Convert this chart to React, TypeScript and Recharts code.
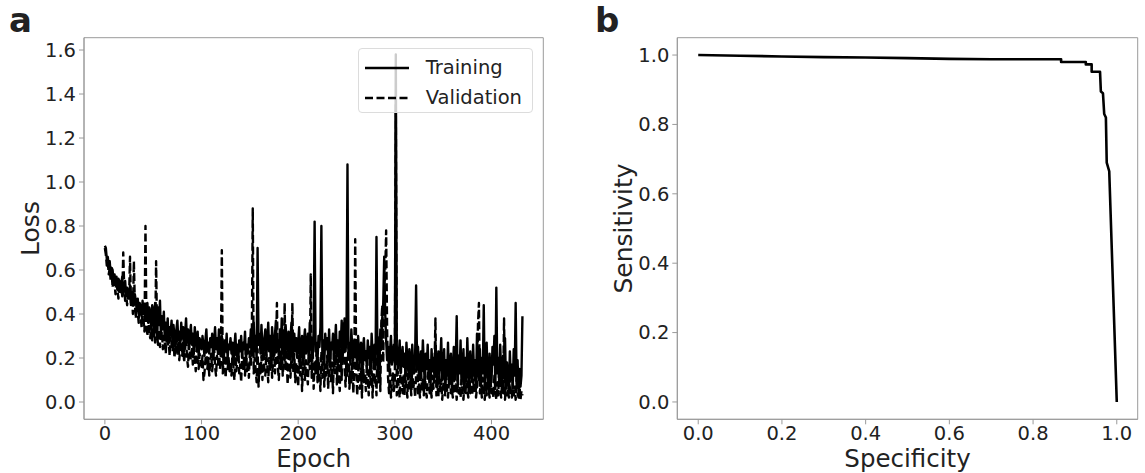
import { LineChart, Line, XAxis, YAxis, Legend, ReferenceArea, Label } from "recharts"

const FONT = '"DejaVu Sans", sans-serif'

// panel a: loss per epoch (index = epoch)
const trainingLoss = [
    0.71, 0.70, 0.65, 0.66, 0.62, 0.64, 0.58, 0.61, 0.60, 0.55,
    0.58, 0.53, 0.57, 0.51, 0.56, 0.55, 0.50, 0.54, 0.57, 0.49,
    0.53, 0.55, 0.48, 0.52, 0.50, 0.47, 0.53, 0.45, 0.50, 0.48,
    0.44, 0.49, 0.46, 0.42, 0.47, 0.40, 0.45, 0.43, 0.39, 0.46,
    0.41, 0.44, 0.38, 0.43, 0.45, 0.36, 0.43, 0.41, 0.33, 0.44,
    0.42, 0.31, 0.45, 0.38, 0.29, 0.43, 0.35, 0.46, 0.30, 0.39,
    0.33, 0.41, 0.28, 0.36, 0.30, 0.38, 0.27, 0.34, 0.31, 0.37,
    0.26, 0.35, 0.30, 0.24, 0.33, 0.37, 0.28, 0.32, 0.25, 0.36,
    0.29, 0.34, 0.23, 0.31, 0.38, 0.27, 0.33, 0.24, 0.30, 0.35,
    0.26, 0.31, 0.22, 0.34, 0.28, 0.25, 0.32, 0.21, 0.29, 0.27,
    0.24, 0.30, 0.26, 0.21, 0.28, 0.33, 0.23, 0.27, 0.22, 0.29,
    0.25, 0.31, 0.20, 0.27, 0.34, 0.24, 0.29, 0.22, 0.33, 0.26,
    0.21, 0.30, 0.25, 0.19, 0.28, 0.23, 0.31, 0.20, 0.26, 0.24,
    0.29, 0.22, 0.27, 0.18, 0.25, 0.31, 0.21, 0.26, 0.19, 0.28,
    0.23, 0.30, 0.20, 0.27, 0.24, 0.32, 0.19, 0.26, 0.22, 0.29,
    0.25, 0.33, 0.21, 0.28, 0.36, 0.23, 0.30, 0.19, 0.70, 0.26,
    0.31, 0.22, 0.35, 0.24, 0.20, 0.29, 0.33, 0.21, 0.27, 0.36,
    0.23, 0.30, 0.18, 0.34, 0.26, 0.21, 0.31, 0.37, 0.24, 0.28,
    0.20, 0.33, 0.25, 0.38, 0.22, 0.29, 0.19, 0.35, 0.27, 0.23,
    0.32, 0.21, 0.28, 0.36, 0.18, 0.26, 0.31, 0.23, 0.29, 0.20,
    0.27, 0.34, 0.19, 0.25, 0.30, 0.17, 0.28, 0.33, 0.22, 0.26,
    0.31, 0.18, 0.36, 0.24, 0.29, 0.20, 0.33, 0.82, 0.23, 0.27,
    0.19, 0.30, 0.25, 0.34, 0.80, 0.22, 0.28, 0.17, 0.31, 0.24,
    0.29, 0.20, 0.33, 0.16, 0.27, 0.24, 0.31, 0.19, 0.26, 0.35,
    0.21, 0.28, 0.18, 0.32, 0.25, 0.37, 0.20, 0.29, 0.38, 0.23,
    0.30, 1.08, 0.22, 0.27, 0.17, 0.33, 0.24, 0.19, 0.28, 0.21,
    0.26, 0.15, 0.30, 0.22, 0.18, 0.27, 0.13, 0.24, 0.29, 0.19,
    0.23, 0.16, 0.28, 0.20, 0.25, 0.14, 0.31, 0.21, 0.18, 0.26,
    0.15, 0.75, 0.22, 0.29, 0.19, 0.33, 0.24, 0.38, 0.45, 0.66,
    0.41, 0.28, 0.19, 0.25, 0.14, 0.23, 0.30, 0.17, 0.21, 0.26,
    0.18, 1.58, 0.24, 0.15, 0.21, 0.28, 0.13, 0.19, 0.25, 0.16,
    0.22, 0.12, 0.27, 0.18, 0.14, 0.24, 0.20, 0.11, 0.26, 0.17,
    0.13, 0.21, 0.53, 0.16, 0.25, 0.10, 0.19, 0.23, 0.14, 0.28,
    0.17, 0.09, 0.22, 0.15, 0.26, 0.12, 0.19, 0.08, 0.24, 0.14,
    0.20, 0.11, 0.27, 0.16, 0.07, 0.23, 0.13, 0.18, 0.29, 0.10,
    0.15, 0.24, 0.06, 0.19, 0.12, 0.27, 0.09, 0.17, 0.22, 0.05,
    0.14, 0.25, 0.10, 0.18, 0.39, 0.07, 0.21, 0.13, 0.28, 0.08,
    0.17, 0.24, 0.05, 0.20, 0.11, 0.29, 0.14, 0.07, 0.23, 0.16,
    0.09, 0.26, 0.12, 0.19, 0.06, 0.31, 0.15, 0.10, 0.24, 0.08,
    0.20, 0.13, 0.44, 0.07, 0.18, 0.27, 0.11, 0.05, 0.22, 0.15,
    0.09, 0.25, 0.17, 0.30, 0.06, 0.52, 0.13, 0.20, 0.08, 0.26,
    0.14, 0.05, 0.21, 0.11, 0.29, 0.07, 0.18, 0.12, 0.04, 0.23,
    0.10, 0.17, 0.06, 0.24, 0.12, 0.45, 0.08, 0.19, 0.04, 0.15,
    0.07, 0.12, 0.39,
]

const validationLoss = [
    0.70, 0.67, 0.62, 0.64, 0.58, 0.61, 0.55, 0.59, 0.52, 0.57,
    0.54, 0.49, 0.56, 0.51, 0.47, 0.55, 0.50, 0.53, 0.48, 0.68,
    0.52, 0.46, 0.50, 0.44, 0.49, 0.47, 0.66, 0.43, 0.48, 0.40,
    0.64, 0.45, 0.38, 0.44, 0.41, 0.36, 0.43, 0.39, 0.34, 0.42,
    0.37, 0.32, 0.80, 0.35, 0.30, 0.38, 0.31, 0.29, 0.36, 0.28,
    0.33, 0.30, 0.27, 0.64, 0.31, 0.26, 0.33, 0.25, 0.29, 0.32,
    0.24, 0.30, 0.27, 0.22, 0.31, 0.25, 0.28, 0.21, 0.33, 0.26,
    0.23, 0.29, 0.20, 0.26, 0.31, 0.22, 0.27, 0.19, 0.25, 0.30,
    0.21, 0.27, 0.18, 0.24, 0.29, 0.20, 0.16, 0.26, 0.22, 0.19,
    0.25, 0.17, 0.23, 0.20, 0.14, 0.27, 0.19, 0.15, 0.22, 0.18,
    0.16, 0.21, 0.10, 0.13, 0.19, 0.24, 0.15, 0.20, 0.12, 0.18,
    0.22, 0.14, 0.19, 0.25, 0.16, 0.12, 0.21, 0.17, 0.26, 0.15,
    0.19, 0.69, 0.13, 0.22, 0.17, 0.11, 0.24, 0.15, 0.20, 0.14,
    0.18, 0.12, 0.23, 0.16, 0.10, 0.21, 0.14, 0.19, 0.25, 0.13,
    0.17, 0.09, 0.22, 0.15, 0.20, 0.12, 0.26, 0.14, 0.18, 0.11,
    0.23, 0.16, 0.28, 0.88, 0.13, 0.20, 0.15, 0.09, 0.24, 0.07,
    0.18, 0.13, 0.21, 0.10, 0.26, 0.15, 0.12, 0.22, 0.17, 0.09,
    0.20, 0.14, 0.25, 0.11, 0.18, 0.27, 0.13, 0.21, 0.45, 0.16,
    0.10, 0.23, 0.15, 0.28, 0.12, 0.19, 0.45, 0.14, 0.24, 0.08,
    0.17, 0.26, 0.11, 0.20, 0.45, 0.13, 0.22, 0.09, 0.18, 0.15,
    0.07, 0.21, 0.12, 0.25, 0.05, 0.16, 0.23, 0.10, 0.19, 0.13,
    0.08, 0.22, 0.15, 0.58, 0.11, 0.26, 0.06, 0.18, 0.13, 0.24,
    0.09, 0.20, 0.14, 0.05, 0.23, 0.11, 0.28, 0.07, 0.17, 0.12,
    0.21, 0.06, 0.15, 0.25, 0.09, 0.18, 0.04, 0.22, 0.13, 0.27,
    0.08, 0.19, 0.12, 0.05, 0.24, 0.10, 0.30, 0.37, 0.16, 0.07,
    0.20, 0.12, 0.26, 0.06, 0.15, 0.09, 0.22, 0.04, 0.13, 0.74,
    0.18, 0.03, 0.11, 0.24, 0.06, 0.15, 0.02, 0.20, 0.09, 0.13,
    0.05, 0.17, 0.10, 0.03, 0.22, 0.07, 0.14, 0.02, 0.19, 0.08,
    0.12, 0.03, 0.25, 0.09, 0.30, 0.05, 0.36, 0.44, 0.18, 0.50,
    0.57, 0.78, 0.33, 0.11, 0.04, 0.16, 0.02, 0.09, 0.13, 0.05,
    0.10, 1.35, 0.03, 0.14, 0.06, 0.02, 0.18, 0.08, 0.04, 0.12,
    0.03, 0.15, 0.07, 0.02, 0.20, 0.05, 0.11, 0.03, 0.16, 0.06,
    0.09, 0.02, 0.13, 0.26, 0.04, 0.08, 0.02, 0.17, 0.05, 0.10,
    0.03, 0.14, 0.06, 0.02, 0.11, 0.19, 0.04, 0.08, 0.02, 0.12,
    0.06, 0.15, 0.38, 0.03, 0.09, 0.02, 0.13, 0.05, 0.10, 0.01,
    0.07, 0.12, 0.03, 0.16, 0.05, 0.02, 0.09, 0.14, 0.04, 0.06,
    0.02, 0.11, 0.05, 0.08, 0.01, 0.13, 0.04, 0.07, 0.02, 0.10,
    0.05, 0.01, 0.09, 0.03, 0.12, 0.06, 0.02, 0.15, 0.04, 0.08,
    0.03, 0.10, 0.05, 0.14, 0.02, 0.07, 0.35, 0.45, 0.04, 0.09,
    0.02, 0.11, 0.05, 0.01, 0.08, 0.03, 0.13, 0.06, 0.02, 0.10,
    0.04, 0.07, 0.02, 0.12, 0.05, 0.01, 0.09, 0.03, 0.16, 0.06,
    0.02, 0.08, 0.04, 0.38, 0.01, 0.10, 0.03, 0.06, 0.02, 0.11,
    0.05, 0.02, 0.09, 0.03, 0.07, 0.01, 0.12, 0.04, 0.02, 0.08,
    0.01, 0.05, 0.03,
]

const epochTicks = [0, 100, 200, 300, 400]
const lossTicks = [0, 0.2, 0.4, 0.6, 0.8, 1.0, 1.2, 1.4, 1.6]

// panel b: ROC points
const specificity = [0, 0.1, 0.2, 0.3, 0.4, 0.5, 0.6, 0.7, 0.8, 0.867, 0.867, 0.926, 0.926, 0.94, 0.94, 0.96, 0.962, 0.967, 0.970, 0.974, 0.976, 0.982, 1.0]
const sensitivity = [1.0, 0.998, 0.996, 0.994, 0.993, 0.991, 0.989, 0.988, 0.988, 0.988, 0.98, 0.98, 0.973, 0.973, 0.952, 0.952, 0.895, 0.89, 0.83, 0.82, 0.69, 0.665, 0.0]
const rocTicks = [0, 0.2, 0.4, 0.6, 0.8, 1.0]

const lossData = trainingLoss.map((v, i) => ({ epoch: i, training: v, validation: validationLoss[i] }))
const rocData = specificity.map((s, i) => ({ spec: s, sens: sensitivity[i] }))

const EPOCH_DOMAIN = [-21.6, 453.6]
const LOSS_DOMAIN = [-0.0786, 1.656]
const ROC_DOMAIN = [-0.05, 1.05]

const DASH = "8 3.5"
const tickStyle = { fill: "#222", fontSize: 19.5, fontFamily: FONT }
const fmt1 = (v: number) => v.toFixed(1)

const YTitle = (text: string) => (props: any) => {
    const vb = props.viewBox || {}
    const cx = vb.x + vb.width - 53.5
    const cy = vb.y + vb.height / 2
    return (
        <text x={cx} y={cy} transform={`rotate(-90, ${cx}, ${cy})`} textAnchor="middle" dominantBaseline="central"
            fontSize={25} fontFamily={FONT} fill="#222">{text}</text>
    )
}

const XTitle = (text: string) => (props: any) => {
    const vb = props.viewBox || {}
    return (
        <text x={vb.x + vb.width / 2} y={vb.y + 48} textAnchor="middle" fontSize={24.5} fontFamily={FONT} fill="#222">{text}</text>
    )
}

const LossLegend = () => (
    <div style={{
        width: 175, height: 65, boxSizing: "border-box", background: "rgba(255,255,255,0.8)",
        border: "1px solid #dcdcdc", borderRadius: 4, fontFamily: FONT, fontSize: 19.5, color: "#222",
        padding: "4px 0 0 6px", lineHeight: "30px",
    }}>
        {[["Training", undefined], ["Validation", DASH]].map(([name, dash]) => (
            <div key={name} style={{ display: "flex", alignItems: "center" }}>
                <svg width={44} height={10} style={{ marginRight: 17 }}>
                    <line x1={0} y1={5} x2={44} y2={5} stroke="#000" strokeWidth={2.3} strokeDasharray={dash} />
                </svg>
                <span>{name}</span>
            </div>
        ))}
    </div>
)

const LossPanel = () => (
    <LineChart width={560} height={473} data={lossData} margin={{ top: 37.7, right: 16.7, bottom: 3.7, left: 24 }}>
        <ReferenceArea x1={EPOCH_DOMAIN[0]} x2={EPOCH_DOMAIN[1]} y1={LOSS_DOMAIN[0]} y2={LOSS_DOMAIN[1]}
            fill="none" stroke="#9a9a9a" strokeWidth={1} />
        <XAxis dataKey="epoch" type="number" domain={EPOCH_DOMAIN} allowDataOverflow ticks={epochTicks}
            height={50} tick={tickStyle} tickSize={5} tickMargin={2} stroke="#9a9a9a" tickLine={{ stroke: "#9a9a9a" }}>
            <Label content={XTitle("Epoch")} />
        </XAxis>
        <YAxis type="number" domain={LOSS_DOMAIN} allowDataOverflow ticks={lossTicks} tickFormatter={fmt1}
            width={60} tick={tickStyle} tickSize={5} tickMargin={3} stroke="#9a9a9a" tickLine={{ stroke: "#9a9a9a" }}>
            <Label content={YTitle("Loss")} />
        </YAxis>
        <Line dataKey="validation" stroke="#000" strokeWidth={2.4} strokeDasharray={DASH} dot={false}
            type="linear" strokeLinejoin="round" isAnimationActive={false} />
        <Line dataKey="training" stroke="#000" strokeWidth={2.4} dot={false}
            type="linear" strokeLinejoin="round" isAnimationActive={false} />
        <Legend layout="vertical" align="center" verticalAlign="middle" content={<LossLegend />}
            wrapperStyle={{ position: "absolute", top: 48.3, left: 357.7, width: 175, height: 65 }} />
    </LineChart>
)

const RocPanel = () => (
    <LineChart width={565} height={473} data={rocData} margin={{ top: 37.7, right: 7.3, bottom: 3.7, left: 37.3 }}>
        <ReferenceArea x1={ROC_DOMAIN[0]} x2={ROC_DOMAIN[1]} y1={ROC_DOMAIN[0]} y2={ROC_DOMAIN[1]}
            fill="none" stroke="#9a9a9a" strokeWidth={1} />
        <XAxis dataKey="spec" type="number" domain={ROC_DOMAIN} allowDataOverflow ticks={rocTicks} tickFormatter={fmt1}
            height={50} tick={tickStyle} tickSize={5} tickMargin={2} stroke="#9a9a9a" tickLine={{ stroke: "#9a9a9a" }}>
            <Label content={XTitle("Specificity")} />
        </XAxis>
        <YAxis type="number" domain={ROC_DOMAIN} allowDataOverflow ticks={rocTicks} tickFormatter={fmt1}
            width={60} tick={tickStyle} tickSize={5} tickMargin={3} stroke="#9a9a9a" tickLine={{ stroke: "#9a9a9a" }}>
            <Label content={YTitle("Sensitivity")} />
        </YAxis>
        <Line dataKey="sens" stroke="#000" strokeWidth={2.6} dot={false} type="linear"
            strokeLinejoin="round" isAnimationActive={false} />
    </LineChart>
)

const panelLetter = { position: "absolute" as const, fontFamily: FONT, fontWeight: "bold" as const, fontSize: 34, color: "#222", lineHeight: 1 }

export default function App() {
    return (
        <div style={{ position: "absolute", top: 0, left: 0, width: 1145, height: 473, background: "#fff" }}>
            <div style={{ ...panelLetter, left: 9, top: 3 }}>a</div>
            <div style={{ ...panelLetter, left: 595, top: 3 }}>b</div>
            <div style={{ position: "absolute", left: 0, top: 0 }}>
                <LossPanel />
            </div>
            <div style={{ position: "absolute", left: 580, top: 0 }}>
                <RocPanel />
            </div>
        </div>
    )
}
